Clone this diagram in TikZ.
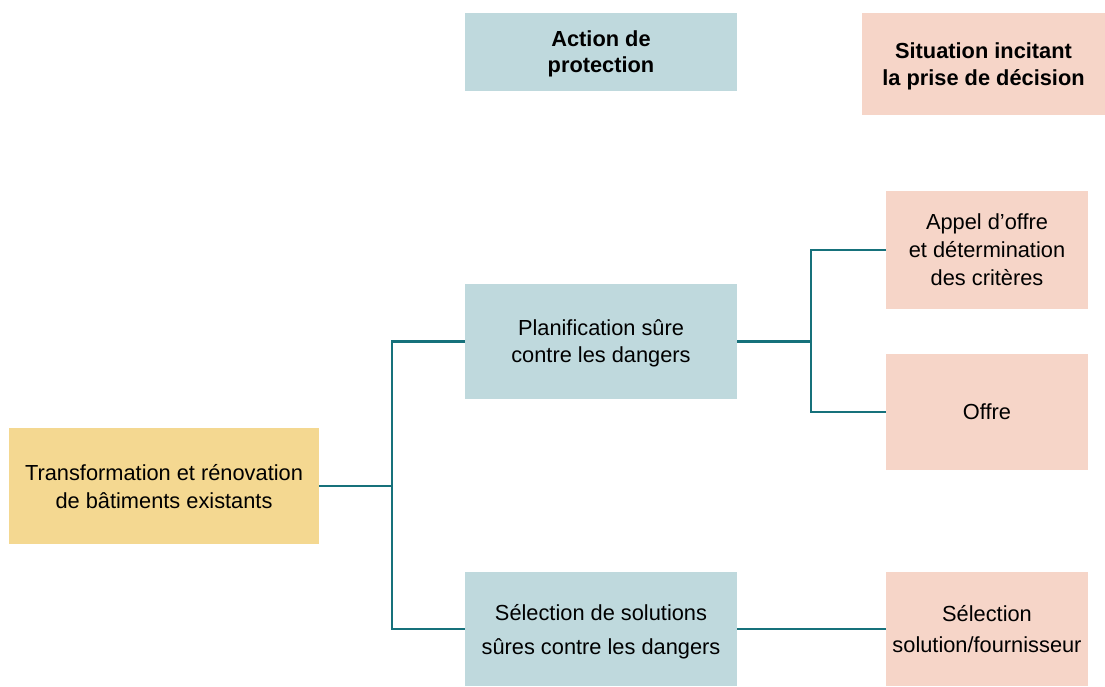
\documentclass[tikz,border=0pt]{standalone}
\usepackage{fontspec}
\setmainfont{Liberation Sans}
\definecolor{actionfill}{HTML}{BFD9DD}
\definecolor{situfill}{HTML}{F6D5C8}
\definecolor{rootfill}{HTML}{F4D891}
\definecolor{link}{HTML}{16717B}
\begin{document}
\begin{tikzpicture}[x=1pt,y=-1pt,
  box/.style={draw=none,inner sep=0pt,outer sep=0pt,anchor=north west,align=center,
    text depth=0pt,font=\fontsize{21.8}{28}\selectfont},
  action/.style={box,fill=actionfill},
  situ/.style={box,fill=situfill},
  root/.style={box,fill=rootfill},
  conn/.style={draw=link,line width=2.5pt}]
\useasboundingbox (0,0) rectangle (1105,686);
% header legend
\node[action,minimum width=272pt,minimum height=78pt,font=\fontsize{21.8}{26}\selectfont\bfseries]
  (hdrA) at (465,13) {Action de\\protection};
\node[situ,minimum width=243pt,minimum height=102pt,font=\fontsize{21.8}{27}\selectfont\bfseries]
  (hdrS) at (862,13) {Situation incitant\\la prise de décision};
% root
\node[root,minimum width=310pt,minimum height=116pt] (root) at (9,428)
  {Transformation et rénovation\\de bâtiments existants};
% protective actions
\node[action,minimum width=272pt,minimum height=115pt,font=\fontsize{21.8}{27}\selectfont]
  (plan) at (465,284) {Planification sûre\\contre les dangers};
\node[action,minimum width=272pt,minimum height=114pt,font=\fontsize{21.8}{34}\selectfont]
  (sel) at (465,572) {Sélection de solutions\\sûres contre les dangers};
% decision situations
\node[situ,minimum width=202pt,minimum height=118pt] (appel) at (886,191)
  {Appel d’offre\\et détermination\\des critères};
\node[situ,minimum width=202pt,minimum height=116pt] (offre) at (886,354) {Offre};
\node[situ,minimum width=202pt,minimum height=114pt,font=\fontsize{21.8}{31}\selectfont]
  (selfour) at (886,572) {Sélection\\solution/fournisseur};
% junction points
\coordinate (j1) at (root.east -| 392,0);
\coordinate (j2) at (plan.east -| 811,0);
% connectors
\draw[conn] (root.east) -- (j1);
\draw[conn] (plan.west) -| (j1) |- (sel.west);
\draw[conn] (plan.east) -- (j2);
\draw[conn] (appel.west |- 0,250) -| (j2) |- (offre.west);
\draw[conn,line width=2pt] (sel.east) -- (selfour.west);
\end{tikzpicture}
\end{document}
